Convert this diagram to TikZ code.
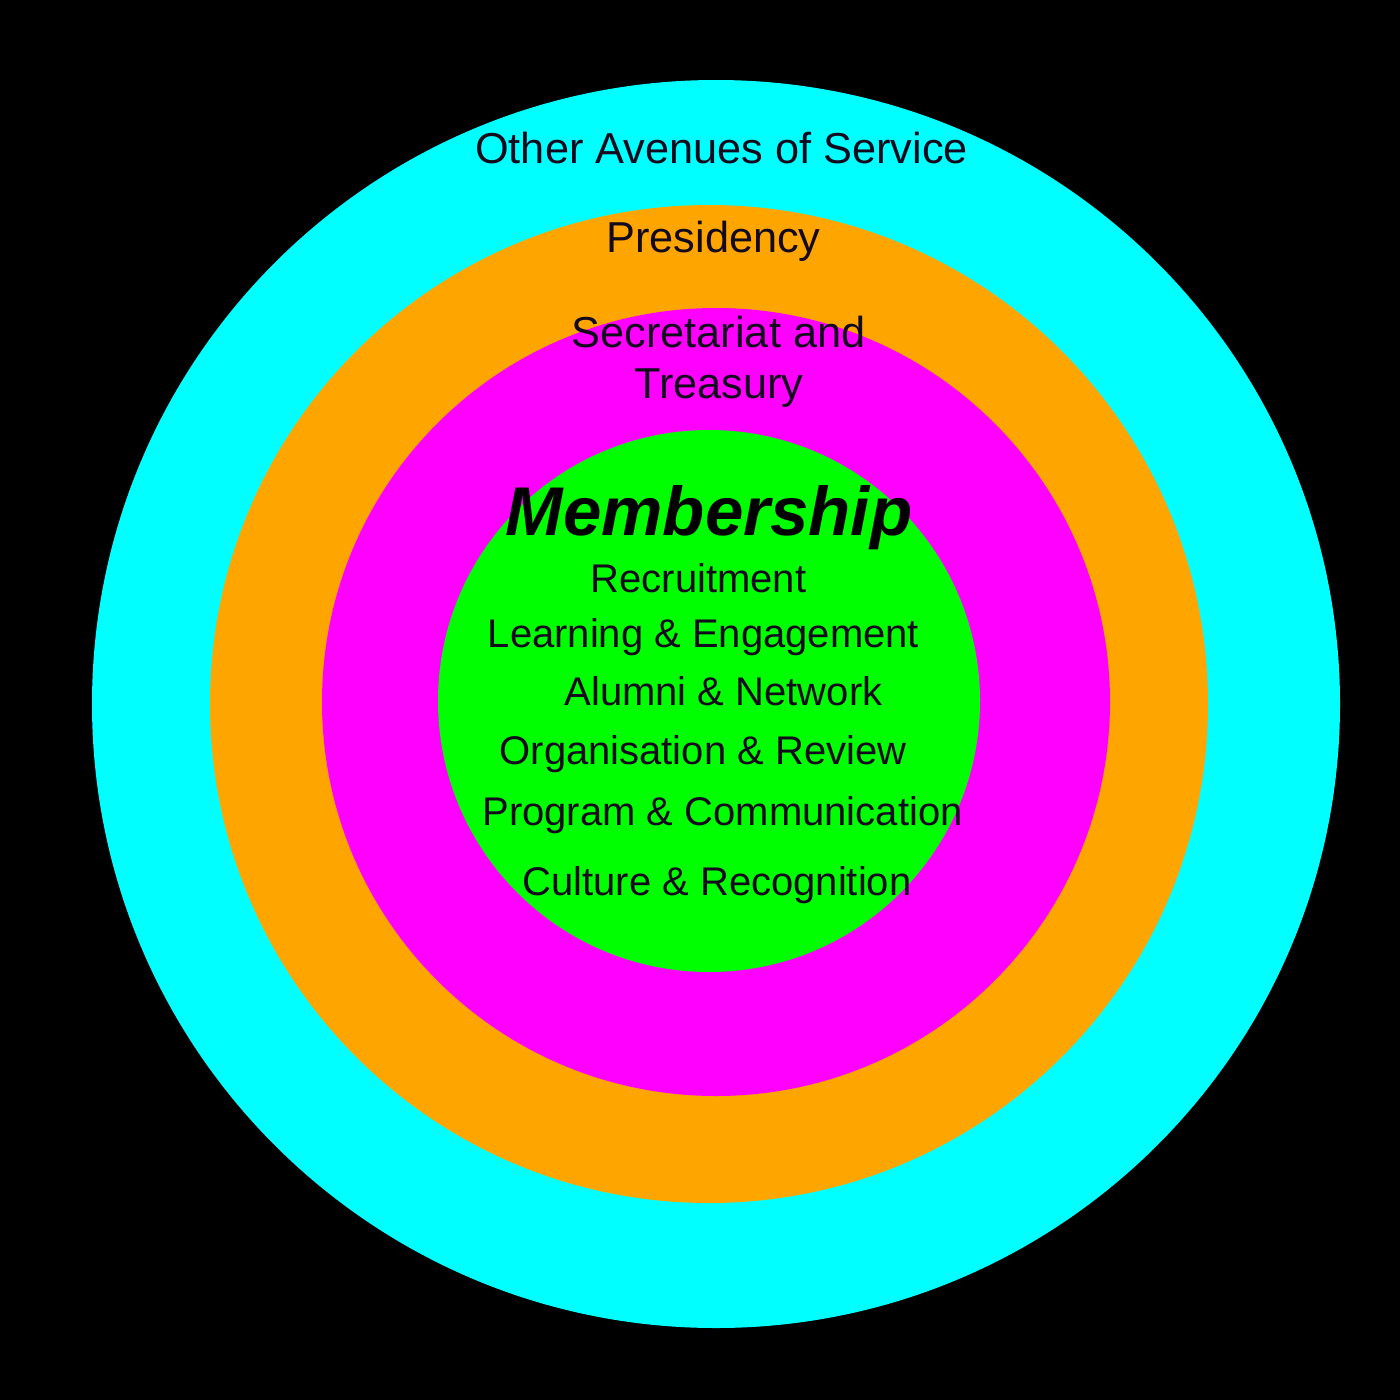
\documentclass[tikz,border=0pt]{standalone}
\usepackage{fontspec}
\setmainfont{Liberation Sans}
\definecolor{ringcyan}{RGB}{0,255,255}
\definecolor{ringorange}{RGB}{255,165,0}
\definecolor{ringmagenta}{RGB}{255,0,255}
\definecolor{ringgreen}{RGB}{0,255,0}
\definecolor{txtdark}{RGB}{20,10,30}
\begin{document}
\begin{tikzpicture}[x=1pt,y=-1pt,
  lbl/.style={anchor=base,inner sep=0pt,text=txtdark,font=\fontsize{43.3}{52}\selectfont},
  item/.style={anchor=base,inner sep=0pt,text=txtdark,font=\fontsize{40}{48}\selectfont},
  head/.style={anchor=base,inner sep=0pt,text=black,font=\fontsize{69}{80}\selectfont\bfseries\itshape}]
\fill[black] (0,0) rectangle (1400,1400);
\useasboundingbox (0,0) rectangle (1400,1400);
\fill[ringcyan] (716,704) circle[radius=624];
\fill[ringorange] (709,704) circle[radius=499];
\fill[ringmagenta] (716,702) circle[radius=394];
\fill[ringgreen] (709,701) circle[radius=271];
\node[lbl] (other) at (721.5,163) {Other Avenues of Service};
\node[lbl] (pres) at (713.5,252) {Presidency};
\node[lbl] (sec1) at (718.5,347) {Secretariat and};
\node[lbl] (sec2) at (719,398) {Treasury};
\node[head] (mem) at (709,535) {Membership};
\node[item] (rec) at (698.5,592) {Recruitment};
\node[item] (learn) at (703.5,647) {Learning \& Engagement};
\node[item] (alum) at (723.5,705) {Alumni \& Network};
\node[item] (org) at (703,764) {Organisation \& Review};
\node[item] (prog) at (722.5,825) {Program \& Communication};
\node[item] (cult) at (717,895) {Culture \& Recognition};
\end{tikzpicture}
\end{document}
